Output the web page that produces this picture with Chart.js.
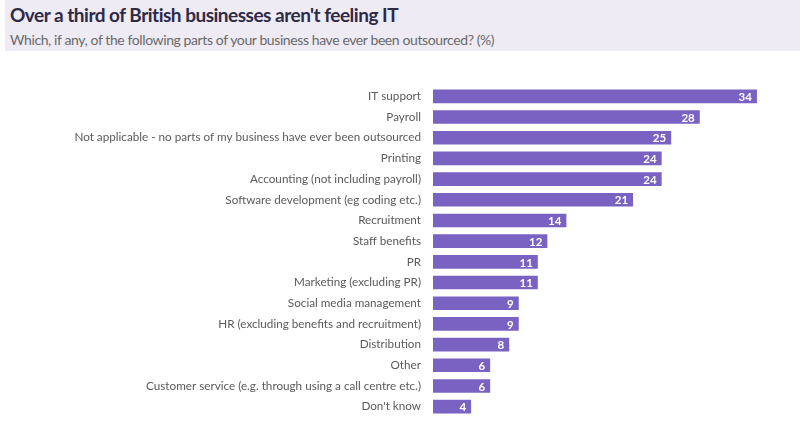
<!DOCTYPE html>
<html>
<head>
<meta charset="utf-8">
<script src="https://cdn.jsdelivr.net/npm/chart.js@4.4.1/dist/chart.umd.min.js"></script>
<style>
    html, body { margin: 0; padding: 0; background: #fff; }
    #wrap { position: relative; width: 800px; height: 435px; }
    #header {
        position: absolute; left: 5px; top: 0; width: 795px; height: 51px;
        background: #eeebf5; z-index: 2;
    }
    #title {
        position: absolute; left: 5px; top: 3px;
        font: bold 19px Lato, sans-serif; color: #2e2a45;
        letter-spacing: -0.5px;
    }
    #subtitle {
        position: absolute; left: 5px; top: 31px;
        font: 14px Lato, sans-serif; color: #6a6a6a;
        letter-spacing: -0.4px;
    }
    #chart { position: absolute; left: 0; top: 0; }
</style>
</head>
<body>
<div id="wrap">
    <div id="header">
        <div id="title">Over a third of British businesses aren't feeling IT</div>
        <div id="subtitle">Which, if any, of the following parts of your business have ever been outsourced? (%)</div>
    </div>
    <canvas id="chart" width="800" height="435"></canvas>
</div>
<script>
const categories = [
    'IT support',
    'Payroll',
    'Not applicable - no parts of my business have ever been outsourced',
    'Printing',
    'Accounting (not including payroll)',
    'Software development (eg coding etc.)',
    'Recruitment',
    'Staff benefits',
    'PR',
    'Marketing (excluding PR)',
    'Social media management',
    'HR (excluding benefits and recruitment)',
    'Distribution',
    'Other',
    'Customer service (e.g. through using a call centre etc.)',
    "Don't know"
];
const values = [34, 28, 25, 24, 24, 21, 14, 12, 11, 11, 9, 9, 8, 6, 6, 4];

// white value labels inside the bar end
const valueLabels = {
    id: 'valueLabels',
    afterDatasetsDraw(chart) {
        const ctx = chart.ctx;
        const meta = chart.getDatasetMeta(0);
        ctx.save();
        ctx.fillStyle = '#ffffff';
        ctx.font = 'bold 11.5px Lato, sans-serif';
        ctx.textAlign = 'right';
        ctx.textBaseline = 'middle';
        meta.data.forEach((bar, i) => {
            ctx.fillText(values[i], bar.x - 5, bar.y + 1);
        });
        ctx.restore();
    }
};

const ctx = document.getElementById('chart').getContext('2d');
new Chart(ctx, {
    type: 'bar',
    data: {
        labels: categories,
        datasets: [{
            data: values,
            backgroundColor: '#7a62c2',
            borderWidth: 0,
            barPercentage: 0.66,
            categoryPercentage: 1.0
        }]
    },
    options: {
        indexAxis: 'y',
        responsive: false,
        animation: false,
        layout: { padding: { top: 86, bottom: 18, right: 24, left: 0 } },
        plugins: { legend: { display: false }, tooltip: { enabled: false } },
        scales: {
            x: {
                display: false,
                min: 0,
                max: 36
            },
            y: {
                grid: { display: false, drawBorder: false },
                border: { display: false },
                ticks: {
                    color: '#5a5a5a',
                    font: { family: 'Lato', size: 11.7 },
                    padding: 4
                },
                afterFit: (scale) => { scale.width = 433; }
            }
        }
    },
    plugins: [valueLabels]
});
</script>
</body>
</html>
